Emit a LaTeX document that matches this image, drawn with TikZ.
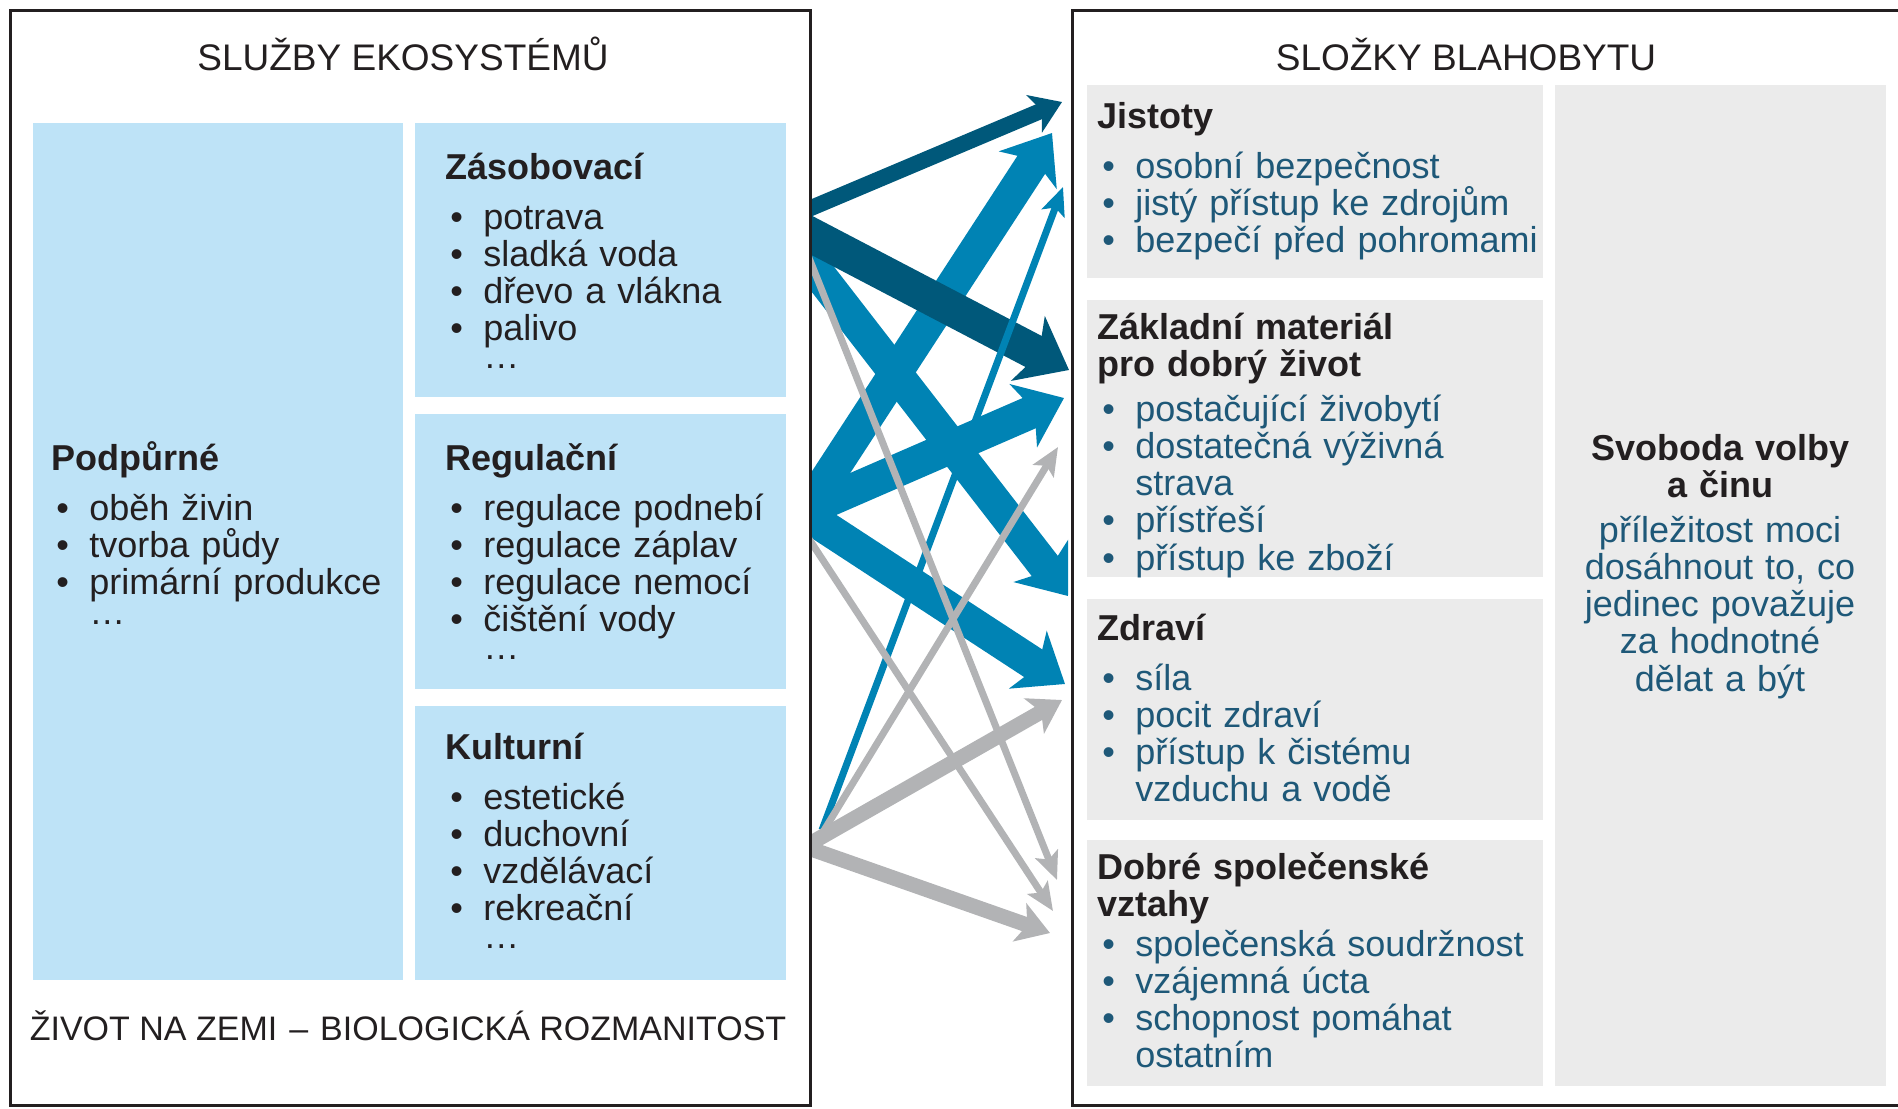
\documentclass[tikz,border=0pt]{standalone}
\usepackage{fontspec}
\setmainfont{Liberation Sans}
\usetikzlibrary{arrows.meta, calc}

\definecolor{lblue}{RGB}{190,227,247}
\definecolor{lgrey}{RGB}{235,235,235}
\definecolor{darkblue}{RGB}{0,88,122}
\definecolor{midblue}{RGB}{0,131,180}
\definecolor{arrgrey}{RGB}{178,179,181}
\definecolor{itemblue}{RGB}{30,88,120}
\definecolor{framecol}{RGB}{35,31,32}

\newcommand{\bul}{\hspace*{2.5pt}\makebox[16.5pt][l]{\textbullet}}
\newcommand{\ind}{\hspace*{19pt}}
\newcommand{\hd}[1]{\textcolor{framecol}{\textbf{#1}}}

\begin{document}
\begin{tikzpicture}[
    x=0.5pt, y=-0.5pt,
    outerbox/.style={draw=framecol, line width=1.5pt},
    title/.style={font=\fontsize{18.5}{22}\selectfont, text=framecol, anchor=base, inner sep=0pt},
    txt/.style={font=\fontsize{18}{18.6}\selectfont, text=framecol, text width=190pt,
                align=left, anchor=base west, inner sep=0pt},
    rtxt/.style={txt, text=itemblue, text width=250pt},
    darkwide/.style={darkblue, line width=17.5pt, -{Stealth[length=23pt,width=36pt,inset=6pt]}},
    darkmid/.style={darkblue, line width=8pt, -{Stealth[length=15pt,width=20pt,inset=4pt]}},
    bluewide/.style={midblue, line width=16.5pt, -{Stealth[length=22pt,width=34pt,inset=6pt]}},
    blueslim/.style={midblue, line width=3.5pt, -{Stealth[length=14pt,width=12pt,inset=3pt]}},
    greyslim/.style={arrgrey, line width=3.5pt, -{Stealth[length=14pt,width=12pt,inset=3pt]}},
    greymid/.style={arrgrey, line width=7.5pt, -{Stealth[length=16pt,width=20pt,inset=4pt]}}
]
\useasboundingbox (0,0) rectangle (1898,1108);

% =========================
% SERVICES (left)
% =========================
\fill[lblue] (33,123) rectangle (403,980);
\fill[lblue] (415,123) rectangle (786,397);
\fill[lblue] (415,414) rectangle (786,689);
\fill[lblue] (415,706) rectangle (786,980);

\node[title] (sluzby) at (403,70) {SLUŽBY EKOSYSTÉMŮ};
\node[title, font=\fontsize{17}{20}\selectfont] (zivot) at (408,1040)
    {ŽIVOT NA ZEMI\hspace{6pt}–\hspace{6pt}BIOLOGICKÁ ROZMANITOST};

\node[txt] (podp) at (51,470) {\textbf{Podpůrné}\\[6.4pt]
    \bul oběh živin\\
    \bul tvorba půdy\\
    \bul primární produkce\\[-3.5pt]
    \ind …};

\node[txt] (zas) at (445,179) {\textbf{Zásobovací}\\[6.4pt]
    \bul potrava\\
    \bul sladká voda\\
    \bul dřevo a vlákna\\
    \bul palivo\\[-4.5pt]
    \ind …};

\node[txt] (reg) at (445,470) {\textbf{Regulační}\\[6.4pt]
    \bul regulace podnebí\\
    \bul regulace záplav\\
    \bul regulace nemocí\\
    \bul čištění vody\\[-4.5pt]
    \ind …};

\node[txt] (kul) at (445,759) {\textbf{Kulturní}\\[6.4pt]
    \bul estetické\\
    \bul duchovní\\
    \bul vzdělávací\\
    \bul rekreační\\[-4.5pt]
    \ind …};

% =========================
% WELL-BEING (right)
% =========================
\fill[lgrey] (1087,85) rectangle (1543,278);
\fill[lgrey] (1087,300) rectangle (1543,577);
\fill[lgrey] (1087,599) rectangle (1543,820);
\fill[lgrey] (1087,840) rectangle (1543,1086);
\fill[lgrey] (1555,85) rectangle (1886,1086);

\node[title] (slozky) at (1466,70) {SLOŽKY BLAHOBYTU};

\node[rtxt] (jist) at (1097,128) {\hd{Jistoty}\\[6.4pt]
    \bul osobní bezpečnost\\
    \bul jistý přístup ke zdrojům\\
    \bul bezpečí před pohromami};

\node[rtxt] (zakl) at (1097,339) {\hd{Základní materiál}\\
    \hd{pro dobrý život}\\[3.9pt]
    \bul postačující živobytí\\
    \bul dostatečná výživná\\
    \ind strava\\
    \bul přístřeší\\
    \bul přístup ke zboží};

\node[rtxt] (zdr) at (1097,640) {\hd{Zdraví}\\[6.4pt]
    \bul síla\\
    \bul pocit zdraví\\
    \bul přístup k čistému\\
    \ind vzduchu a vodě};

\node[rtxt] (dobr) at (1097,879) {\hd{Dobré společenské}\\
    \hd{vztahy}\\[1.4pt]
    \bul společenská soudržnost\\
    \bul vzájemná úcta\\
    \bul schopnost pomáhat\\
    \ind ostatním};

\node[rtxt, align=center, text width=165pt, anchor=base] (svob) at (1720,460)
    {\hd{Svoboda volby}\\
     \hd{a činu}\\[3.9pt]
     příležitost moci\\
     dosáhnout to, co\\
     jedinec považuje\\
     za hodnotné\\
     dělat a být};

% =========================
% LINKS
% =========================
% arrow ends
\foreach \n/\x/\y in {zas-j/811/208, zas-m/811/235, zas-z/811/264, zas-v/813/268,
                      reg-j/811/503, reg-m/811/508, reg-z/811/518, reg-v/811/542,
                      kul-j/822/830, kul-m/823/832, kul-z/811/843, kul-v/811/849,
                      j-zas/1062/102, j-reg/1052/133, j-kul/1063/187,
                      m-zas/1069/370, m-reg/1064/398, m-kul/1058/447,
                      z-zas/1068/596, z-reg/1065/684, z-kul/1062/700,
                      v-zas/1057/880, v-reg/1053/911, v-kul/1050/933}
    \coordinate (\n) at (\x,\y);

\begin{scope}
    \clip (811,0) rectangle (1898,1108);
    % blue first, then dark, thin blue, grey on top
    \foreach \s/\t/\sty/\e in {zas-z/z-zas/bluewide/20pt, reg-j/j-reg/bluewide/20pt,
                               reg-m/m-reg/bluewide/20pt, reg-z/z-reg/bluewide/20pt,
                               zas-j/j-zas/darkmid/20pt, zas-m/m-zas/darkwide/20pt,
                               kul-j/j-kul/blueslim/0pt,
                               zas-v/v-zas/greyslim/10pt, reg-v/v-reg/greyslim/10pt,
                               kul-m/m-kul/greyslim/0pt,
                               kul-z/z-kul/greymid/15pt, kul-v/v-kul/greymid/15pt}
        \draw[\sty] ($(\s)!-\e!(\t)$) -- (\t);
\end{scope}

% =========================
% FRAMES
% =========================
\draw[outerbox] (10,10) rectangle (810,1105);
\draw[outerbox] (1910,10) -- (1072,10) -- (1072,1105) -- (1910,1105);
\end{tikzpicture}
\end{document}
